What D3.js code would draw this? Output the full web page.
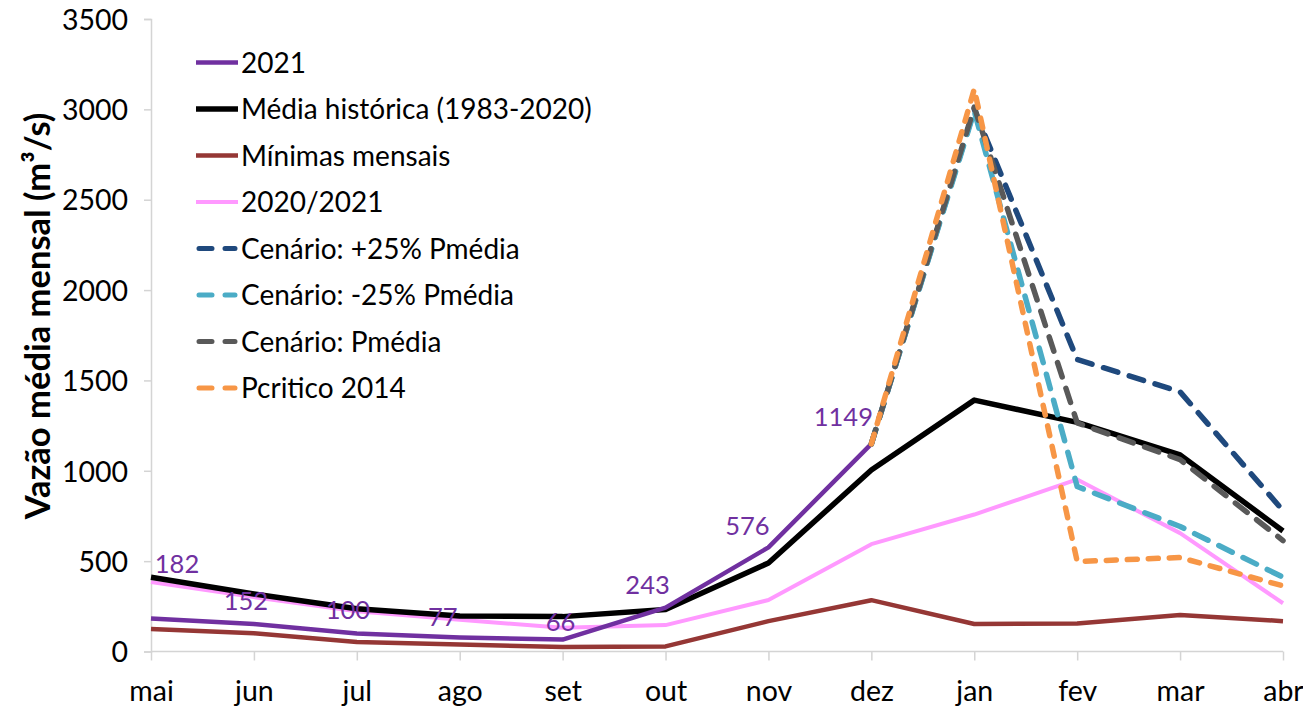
<!DOCTYPE html>
<html>
<head>
<meta charset="utf-8">
<script src="https://cdn.jsdelivr.net/npm/d3@7/dist/d3.min.js"></script>
<style>
  html, body { margin: 0; padding: 0; background: #ffffff; }
  svg { display: block; font-family: Lato, "Open Sans", sans-serif; }
</style>
</head>
<body>
<svg id="chart" width="1303" height="708"></svg>
<script>
// Months of the hydrological year (May to April)
const months = ["mai", "jun", "jul", "ago", "set", "out", "nov", "dez", "jan", "fev", "mar", "abr"];
const yTicks = [0, 500, 1000, 1500, 2000, 2500, 3000, 3500];

// Monthly mean discharge (m³/s)
const obs2021        = [182, 152, 100, 77, 66, 243, 576, 1149, null, null, null, null];
const mediaHistorica = [411, 318, 237, 196, 193, 232, 490, 1004, 1391, 1268, 1088, 667];
const minimasMensais = [125, 101, 52, 39, 25, 28, 168, 284, 152, 155, 202, 168];
const ano20202021    = [384, 301, 222, 176, 131, 146, 285, 594, 758, 952, 655, 267];
const cenarioMais25  = [null, null, null, null, null, null, null, 1149, 3000, 1616, 1437, 780];
const cenarioMenos25 = [null, null, null, null, null, null, null, 1149, 2990, 913, 692, 411];
const cenarioPmedia  = [null, null, null, null, null, null, null, 1149, 3013, 1265, 1062, 614];
const pcritico2014   = [null, null, null, null, null, null, null, 1149, 3112, 498, 520, 363];

// Placement of the 2021 value labels relative to each point (px)
const labelShift = [[26, -55], [-8, -23], [-9, -24], [-17, -21], [-2, -18], [-18, -23], [-21, -22], [-28, -27]];

const series = [
  { name: "2021",                         values: obs2021,        color: "#7030A0", width: 4.5, dash: null },
  { name: "Média histórica (1983-2020)",  values: mediaHistorica, color: "#000000", width: 5.5, dash: null },
  { name: "Mínimas mensais",              values: minimasMensais, color: "#953735", width: 4.5, dash: null },
  { name: "2020/2021",                    values: ano20202021,    color: "#FF99FF", width: 4,   dash: null },
  { name: "Cenário: +25% Pmédia",         values: cenarioMais25,  color: "#1F497D", width: 5.5, dash: "15,12" },
  { name: "Cenário: -25% Pmédia",         values: cenarioMenos25, color: "#4BACC6", width: 5.5, dash: "15,12" },
  { name: "Cenário: Pmédia",              values: cenarioPmedia,  color: "#595959", width: 5.5, dash: "15,12" },
  { name: "Pcritico 2014",                values: pcritico2014,   color: "#F79646", width: 5.5, dash: "10,11" }
];

// Painting order of the lines (back to front)
const drawOrder = [3, 2, 1, 0, 4, 5, 6, 7];

const svg = d3.select("#chart");
const plot = { left: 151, right: 1283, top: 19, bottom: 651.5 };

const x = d3.scalePoint().domain(months).range([plot.left, plot.right]);
const y = d3.scaleLinear().domain([0, 3500]).range([plot.bottom, plot.top]);

const axisColor = "#d4d4d4";

// Y axis
const yAxis = svg.append("g")
  .attr("transform", `translate(${plot.left},0)`)
  .call(d3.axisLeft(y).tickValues(yTicks).tickSize(7).tickPadding(16).tickFormat(d3.format("d")));
yAxis.select(".domain").attr("stroke", axisColor).attr("stroke-width", 1.5);
yAxis.selectAll(".tick line").attr("stroke", axisColor).attr("stroke-width", 1.5);
yAxis.selectAll(".tick text")
  .attr("fill", "#000").attr("font-size", 28.5).attr("font-family", "Lato, sans-serif")
  .attr("dy", "0.36em");

// X axis
const xAxis = svg.append("g")
  .attr("transform", `translate(0,${plot.bottom})`)
  .call(d3.axisBottom(x).tickSize(9).tickPadding(0));
xAxis.select(".domain").attr("stroke", axisColor).attr("stroke-width", 1.5)
  .attr("d", `M${plot.left},0H${plot.right}`);
xAxis.selectAll(".tick line").attr("stroke", axisColor).attr("stroke-width", 1.5);
xAxis.selectAll(".tick text")
  .attr("fill", "#000").attr("font-size", 28.5).attr("font-family", "Lato, sans-serif")
  .attr("y", 49).attr("dy", 0);

// Y axis title
svg.append("text")
  .attr("transform", `translate(50,${(110 + 522) / 2}) rotate(-90)`)
  .attr("text-anchor", "middle")
  .attr("font-size", 34.5).attr("font-weight", "bold")
  .attr("fill", "#000")
  .text("Vazão média mensal (m³/s)");

// Lines
const line = d3.line()
  .defined(d => d != null)
  .x((d, i) => x(months[i]))
  .y(d => y(d));

const linesG = svg.append("g").attr("fill", "none");
drawOrder.forEach(k => {
  const s = series[k];
  linesG.append("path")
    .datum(s.values)
    .attr("d", line)
    .attr("stroke", s.color)
    .attr("stroke-width", s.width)
    .attr("stroke-linejoin", "round")
    .attr("stroke-linecap", s.dash ? "round" : "butt")
    .attr("stroke-dasharray", s.dash);
});

// Value labels on the 2021 series
svg.append("g").selectAll("text")
  .data(obs2021.map((v, i) => ({ v, i })).filter(d => d.v != null))
  .join("text")
  .attr("x", d => x(months[d.i]) + labelShift[d.i][0])
  .attr("y", d => y(d.v) + labelShift[d.i][1])
  .attr("dy", "0.36em")
  .attr("text-anchor", "middle")
  .attr("font-size", 25.5)
  .attr("fill", "#7030A0")
  .text(d => d.v);

// Legend
const legend = svg.append("g").attr("transform", "translate(196,62.5)");
const row = legend.selectAll("g").data(series).join("g")
  .attr("transform", (d, i) => `translate(0,${i * 46.5})`);
row.append("line")
  .attr("x1", d => d.dash ? 3 : 0).attr("x2", d => d.dash ? 39 : 42)
  .attr("y1", 0).attr("y2", 0)
  .attr("stroke", d => d.color)
  .attr("stroke-width", d => d.dash ? 5 : d.width)
  .attr("stroke-linecap", d => d.dash ? "round" : "butt")
  .attr("stroke-dasharray", d => d.dash ? "13,13" : null);
row.append("text")
  .attr("x", 45).attr("y", 0).attr("dy", "0.36em")
  .attr("font-size", 28).attr("fill", "#000")
  .text(d => d.name);
</script>
</body>
</html>
